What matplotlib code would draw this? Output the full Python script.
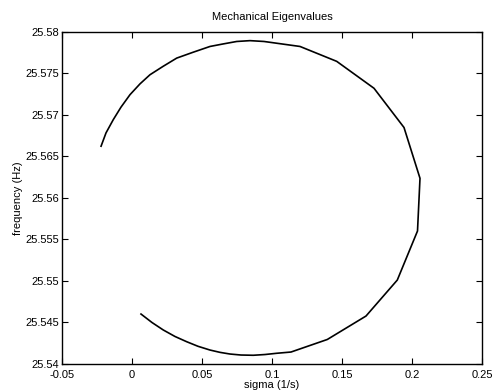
import matplotlib
matplotlib.use("Agg")
import matplotlib.pyplot as plt
import numpy as np

# Locus of the mechanical eigenvalue: real part (sigma) vs. frequency
sigma = [-0.0221, -0.01857, -0.01336, -0.00786, -0.00143, 0.00571, 0.01286,
         0.02214, 0.03193, 0.04357, 0.05571, 0.065, 0.07479, 0.08429, 0.09429,
         0.12, 0.14621, 0.17286, 0.19429, 0.20571, 0.20393, 0.1895, 0.16714,
         0.1395, 0.11357, 0.10336, 0.095, 0.08664, 0.07786, 0.07, 0.06286,
         0.05571, 0.04714, 0.03907, 0.03071, 0.02236, 0.01429, 0.00643]
freq = [25.5662, 25.5678, 25.5694, 25.5709, 25.5724, 25.5737, 25.5748,
        25.5758, 25.5768, 25.5775, 25.5782, 25.5785, 25.5788, 25.5789, 25.5788,
        25.5782, 25.57641, 25.57317, 25.56845, 25.56234, 25.556, 25.5501, 25.54577,
        25.54295, 25.54144, 25.54129, 25.54114, 25.54105, 25.54108, 25.5412, 25.5414,
        25.54168, 25.54213, 25.54268, 25.54331, 25.54409, 25.54499, 25.54601]

xticks = [-0.05, 0, 0.05, 0.1, 0.15, 0.2, 0.25]
xtick_labels = ["-0.05", "0", "0.05", "0.1", "0.15", "0.2", "0.25"]
yticks = [25.54, 25.545, 25.55, 25.555, 25.56, 25.565, 25.57, 25.575, 25.58]
ytick_labels = ["25.54", "25.545", "25.55", "25.555", "25.56", "25.565", "25.57", "25.575", "25.58"]

plt.rcParams['font.family'] = ['Liberation Sans', 'DejaVu Sans']
plt.rcParams['font.size'] = 8

fig = plt.figure(figsize=(4.93, 3.90), dpi=100)
ax = fig.add_axes([62 / 493, 1 - 364 / 390, 420 / 493, (364 - 31.5) / 390])

ax.plot(sigma, freq, color='black', linewidth=1.2)

ax.set_xlim(-0.05, 0.25)
ax.set_ylim(25.54, 25.58)
ax.set_xticks(xticks)
ax.set_xticklabels(xtick_labels)
ax.set_yticks(yticks)
ax.set_yticklabels(ytick_labels)
ax.tick_params(direction='in', top=True, right=True, length=4, width=0.8,
               labelsize=8)
ax.tick_params(axis='x', pad=4)
ax.tick_params(axis='y', pad=2)
for sp in ax.spines.values():
    sp.set_linewidth(1.0)

ax.set_title("Mechanical Eigenvalues", fontsize=8, pad=8)
ax.set_xlabel("sigma (1/s)", fontsize=8, labelpad=0)
ax.set_ylabel("frequency (Hz)", fontsize=8, labelpad=2)

fig.savefig("out.png", dpi=100)
